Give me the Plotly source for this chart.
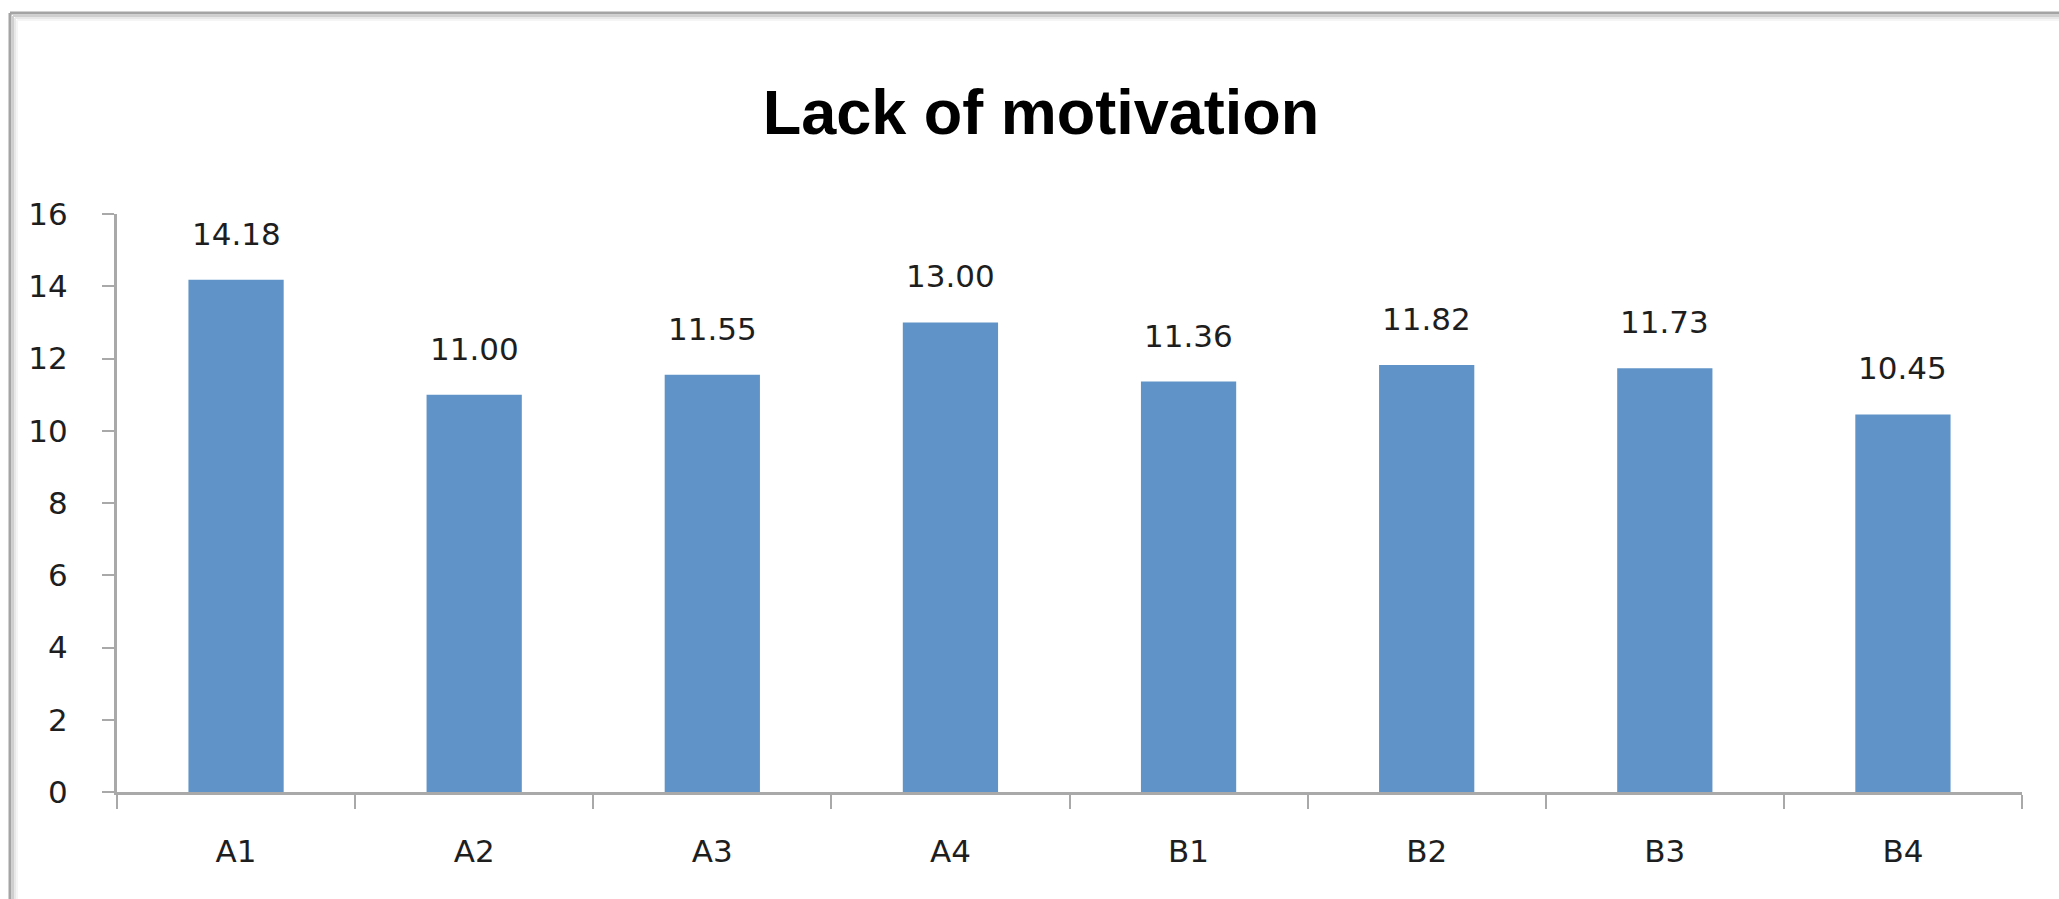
import plotly.graph_objects as go

# Survey groups and their mean "lack of motivation" scores
categories = ["A1", "A2", "A3", "A4", "B1", "B2", "B3", "B4"]
scores = [14.18, 11.00, 11.55, 13.00, 11.36, 11.82, 11.73, 10.45]
y_ticks = [0, 2, 4, 6, 8, 10, 12, 14, 16]
title_text = "Lack of motivation"

W, H = 2059, 899
M_L, M_R, M_T, M_B = 117, 37, 214, 107
PW = W - M_L - M_R
PH = H - M_T - M_B

BAR = "#6094c8"
AXIS = "#a9a9a9"
TXT = "#1e1e1e"
FONT = "DejaVu Sans"


def px_x(x):
    return (x - M_L) / PW


def px_y(y):
    return (H - M_B - y) / PH


fig = go.Figure()
fig.add_trace(go.Bar(
    x=categories,
    y=scores,
    marker=dict(color=BAR, line=dict(width=0)),
    hoverinfo="x+y",
))

# value labels above each bar
for c, v in zip(categories, scores):
    fig.add_annotation(
        x=c, y=v, xref="x", yref="y",
        text=f"{v:.2f}", showarrow=False,
        yanchor="middle", yshift=46,
        font=dict(family=FONT, size=31, color=TXT),
    )

# chart frame: top and left edges with a soft shadow
frame = [(0, "#a4a4a4", 3), (3, "#cfcfcf", 2), (5, "#e8e8e8", 2), (7, "#f5f5f5", 2)]
for off, col, w in frame:
    fig.add_shape(type="line", xref="paper", yref="paper",
                  x0=px_x(10 + off), x1=px_x(W + 10),
                  y0=px_y(13 + off), y1=px_y(13 + off),
                  line=dict(color=col, width=w), layer="below")
    fig.add_shape(type="line", xref="paper", yref="paper",
                  x0=px_x(10 + off), x1=px_x(10 + off),
                  y0=px_y(13 + off), y1=px_y(H + 10),
                  line=dict(color=col, width=w), layer="below")

fig.update_layout(
    width=W, height=H,
    margin=dict(l=M_L, r=M_R, t=M_T, b=M_B),
    paper_bgcolor="white",
    plot_bgcolor="white",
    bargap=0.6,
    showlegend=False,
    title=dict(
        text=f"<b>{title_text}</b>",
        xref="paper", x=px_x(1041), xanchor="center",
        yref="container", y=1 - 112 / H, yanchor="middle",
        font=dict(family="Liberation Sans", size=63, color="#000000"),
    ),
    xaxis=dict(
        showline=True, linecolor=AXIS, linewidth=3,
        ticks="outside", tickson="boundaries", ticklen=14,
        tickwidth=2, tickcolor=AXIS,
        showgrid=False, zeroline=False,
        tickfont=dict(family=FONT, size=31, color=TXT),
        ticklabelstandoff=30,
    ),
    yaxis=dict(
        range=[0, 16], tickvals=y_ticks,
        showline=True, linecolor=AXIS, linewidth=3,
        ticks="outside", ticklen=12, tickwidth=2, tickcolor=AXIS,
        showgrid=False, zeroline=False,
        tickfont=dict(family=FONT, size=31, color=TXT),
        ticklabelstandoff=28,
    ),
)

fig.write_html("out.html")
